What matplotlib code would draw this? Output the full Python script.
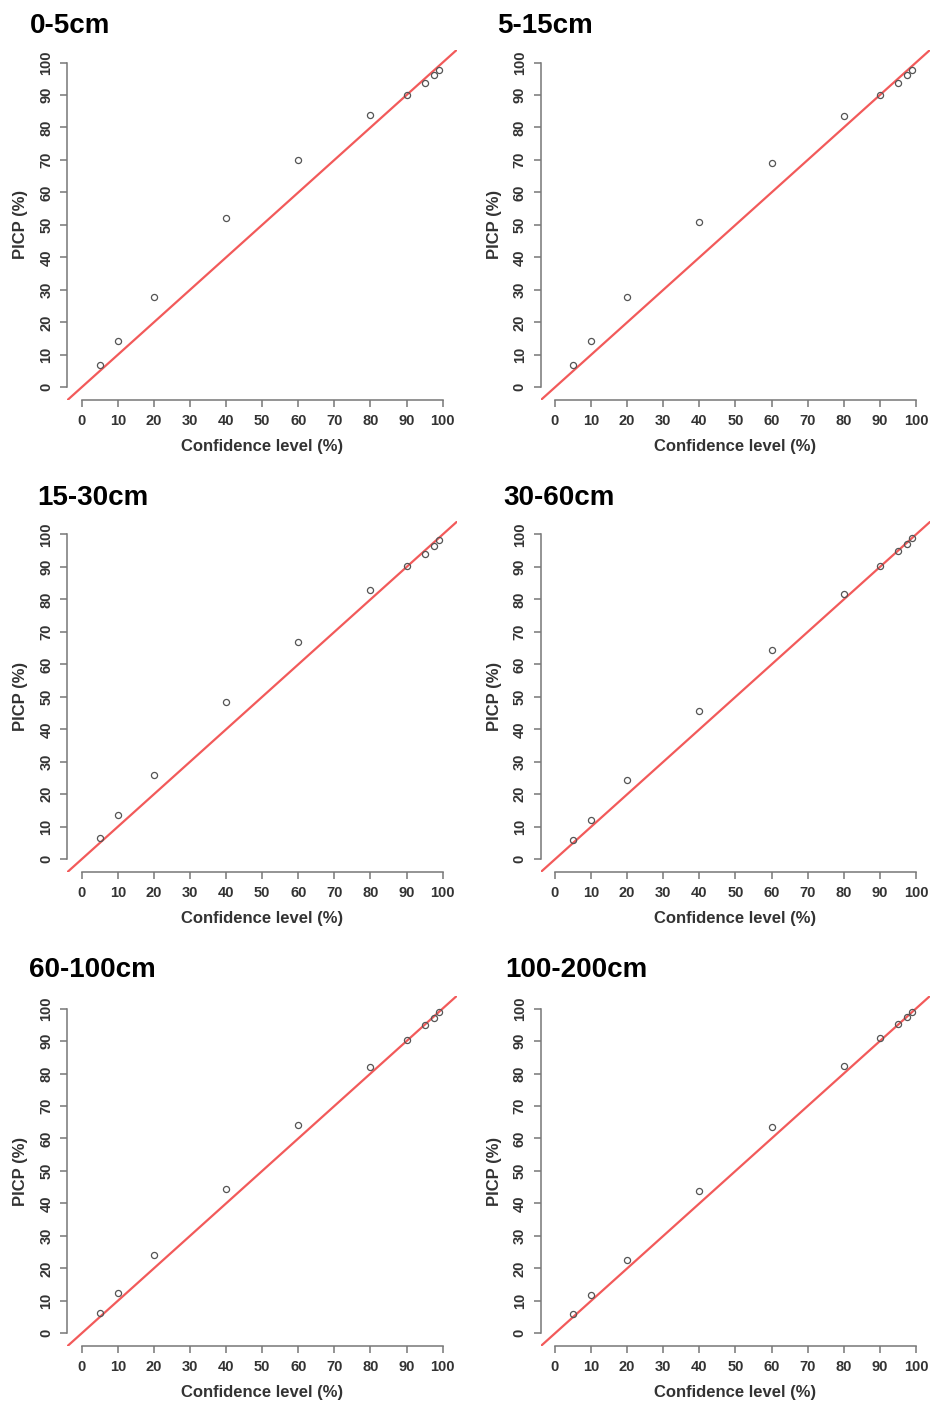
import matplotlib.pyplot as plt

plt.rcParams['font.family'] = ['Liberation Sans', 'DejaVu Sans']

conf = [5, 10, 20, 40, 60, 80, 90, 95, 97.5, 99]
depths = ['0-5cm', '5-15cm', '15-30cm', '30-60cm', '60-100cm', '100-200cm']

picp_0_5 = [6.9, 14.1, 27.9, 52.0, 69.9, 83.9, 90.1, 93.8, 96.2, 97.7]
picp_5_15 = [6.9, 14.3, 27.9, 50.8, 69.1, 83.4, 90.1, 93.8, 96.2, 97.7]
picp_15_30 = [6.5, 13.5, 26.0, 48.3, 67.0, 82.9, 90.2, 94.0, 96.4, 98.2]
picp_30_60 = [6.0, 12.1, 24.3, 45.5, 64.5, 81.8, 90.3, 95.0, 97.2, 98.9]
picp_60_100 = [6.3, 12.5, 24.2, 44.5, 64.3, 82.0, 90.4, 94.8, 97.1, 98.9]
picp_100_200 = [5.8, 11.7, 22.5, 43.8, 63.6, 82.3, 90.8, 95.1, 97.3, 98.9]
picp = [picp_0_5, picp_5_15, picp_15_30, picp_30_60, picp_60_100, picp_100_200]

ticks = list(range(0, 101, 10))

fig = plt.figure(figsize=(9.31, 14.03), dpi=100)

# panel layout in figure fractions: left, bottom, width, height
lefts = [0.0722, 0.5806]
bottoms = [0.7147, 0.3783, 0.0404]
w, h = 0.4188, 0.25
# title positions (pixels from top-left)
title_pos = [(30, 33), (497, 33), (37, 505), (503, 505), (29, 977), (505, 977)]

for i, name in enumerate(depths):
    r, c = divmod(i, 2)
    ax = fig.add_axes([lefts[c], bottoms[r], w, h])
    ax.axline((0, 0), slope=1, color='#f25a5a', lw=1.6, zorder=1)
    ax.plot(conf, picp[i], 'o', ms=4.4, mfc='none', mec='#555555', mew=0.9, zorder=2)

    ax.set_xlim(-4, 104)
    ax.set_ylim(-4, 104)
    ax.set_xticks(ticks)
    ax.set_yticks(ticks)
    for s in ['top', 'right']:
        ax.spines[s].set_visible(False)
    for s in ['left', 'bottom']:
        ax.spines[s].set_bounds(0, 100)
        ax.spines[s].set_color('#777777')
        ax.spines[s].set_linewidth(1.1)
    ax.tick_params(colors='#777777', width=1.1, length=5, labelsize=10.5,
                   labelcolor='#333333', pad=5)
    for lab in ax.get_xticklabels():
        lab.set_fontweight('bold')
    for lab in ax.get_yticklabels():
        lab.set_fontweight('bold')
        lab.set_rotation(90)
        lab.set_va('center')
    ax.set_xlabel('Confidence level (%)', fontsize=12, fontweight='bold', color='#333333', labelpad=8)
    ax.set_ylabel('PICP (%)', fontsize=12, fontweight='bold', color='#333333', labelpad=8)

    tx, ty = title_pos[i]
    fig.text(tx / 931, 1 - ty / 1403, name, fontsize=20, fontweight='bold',
             ha='left', va='baseline', color='black')

fig.savefig('out.png', dpi=100, facecolor='white')
